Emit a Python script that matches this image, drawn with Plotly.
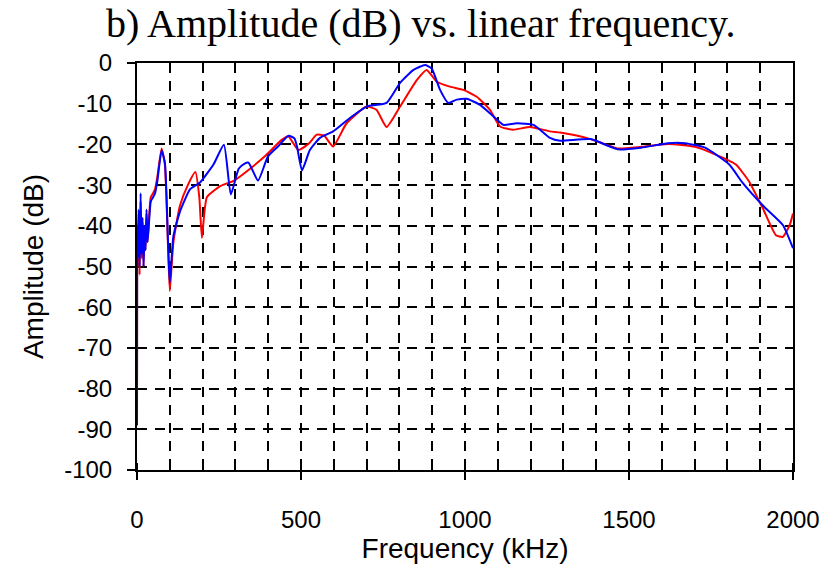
import plotly.graph_objects as go

# Blue trace
blue_f = [0, 0.5, 2, 5, 8, 11, 14, 17, 20, 23, 26, 29, 32, 36, 42, 49, 55, 62, 75, 85, 95, 100, 111, 131, 162, 193, 234, 265, 286, 310, 327, 340, 369, 399, 430, 462, 480, 488, 503, 527, 558, 598, 649, 700, 761, 802, 843, 878, 898, 924, 949, 975, 1005, 1046, 1086, 1117, 1158, 1209, 1259, 1290, 1383, 1465, 1537, 1619, 1671, 1732, 1805, 1846, 1908, 1969, 2000]
blue_db = [-89, -40, -48, -36, -50, -32, -47, -38, -50, -40, -46, -36, -44, -40, -34, -33, -32, -29, -21.5, -24.5, -45, -54, -42.5, -36.5, -31, -29.3, -24.8, -20.1, -32.3, -26, -24.8, -24.5, -28.9, -23, -20.5, -17.9, -18.5, -20.6, -26.4, -21.4, -18.4, -16.8, -13.5, -10.7, -9.8, -4.9, -1.7, -0.5, -1.3, -6.6, -9.8, -9, -8.8, -10.3, -13.1, -15.2, -14.8, -15.2, -18.4, -19.1, -18.7, -21.2, -20.8, -19.7, -19.7, -20.8, -24.9, -29.4, -35, -39.8, -45.5]

# Red trace
red_f = [0, 0.5, 2, 5, 8, 11, 14, 17, 20, 23, 26, 29, 32, 36, 42, 49, 55, 62, 75, 85, 95, 100, 111, 131, 155, 178, 190, 198, 213, 255, 296, 338, 389, 441, 461, 492, 524, 548, 570, 598, 639, 700, 730, 761, 802, 853, 883, 914, 954, 995, 1036, 1076, 1107, 1147, 1198, 1259, 1290, 1383, 1465, 1537, 1619, 1701, 1764, 1825, 1866, 1908, 1948, 1969, 1990, 2000]
red_db = [-89, -42, -50, -37, -52, -34, -48, -39, -50, -41, -46, -37, -44, -39, -33, -32, -31, -28, -21, -25, -46, -56, -44, -35, -30, -26.8, -33, -43, -33, -30.2, -28.9, -26.4, -23, -18.9, -18, -21.4, -19.8, -17.6, -17.8, -20.5, -14.8, -10.7, -11.5, -15.7, -10.7, -4.2, -1.7, -4.6, -5.8, -6.6, -8.3, -11.5, -15.6, -16.4, -15.7, -16.8, -17.1, -18.7, -21, -20.6, -19.9, -20.6, -22.5, -24.9, -29.1, -35.7, -42.3, -42.7, -39.8, -37]

x_ticks = [0, 500, 1000, 1500, 2000]
y_ticks = [0, -10, -20, -30, -40, -50, -60, -70, -80, -90, -100]

fig = go.Figure()
fig.add_trace(go.Scatter(x=red_f, y=red_db, mode="lines",
                         line=dict(color="#ff0000", width=2, shape="spline", smoothing=0.5),
                         showlegend=False))
fig.add_trace(go.Scatter(x=blue_f, y=blue_db, mode="lines",
                         line=dict(color="#0000ff", width=2, shape="spline", smoothing=0.5),
                         showlegend=False))

tick_font = dict(family="Liberation Sans, Arial, sans-serif", size=24, color="black")
label_font = dict(family="Liberation Sans, Arial, sans-serif", size=28, color="black")

fig.update_layout(
    width=833, height=573,
    margin=dict(l=137, r=40, t=63, b=103),
    paper_bgcolor="white", plot_bgcolor="white",
    title=dict(text="b) Amplitude (dB) vs. linear frequency.",
               font=dict(family="Liberation Serif, Times New Roman, serif", size=40, color="black"),
               x=0.505, xanchor="center", y=0.96, yanchor="middle"),
    xaxis=dict(range=[0, 2000], tickvals=x_ticks, ticktext=[str(v) for v in x_ticks],
               showline=True, linecolor="black", linewidth=2, mirror=True,
               ticks="outside", ticklen=8, tickwidth=2, tickcolor="black",
               ticklabelstandoff=19,
               showgrid=True, gridcolor="black", gridwidth=2, griddash="10px,8px",
               minor=dict(dtick=100, tick0=0, ticks="inside", ticklen=7, tickwidth=2,
                          tickcolor="black", showgrid=True, gridcolor="black",
                          gridwidth=2, griddash="10px,8px"),
               zeroline=False, tickfont=tick_font,
               title=dict(text="Frequency (kHz)", font=label_font, standoff=5)),
    yaxis=dict(range=[-100, 0], tickvals=y_ticks, ticktext=[str(v) for v in y_ticks],
               showline=True, linecolor="black", linewidth=2, mirror=True,
               ticks="outside", ticklen=8, tickwidth=2, tickcolor="black",
               ticklabelstandoff=10,
               showgrid=True, gridcolor="black", gridwidth=2, griddash="10px,8px",
               zeroline=False, tickfont=tick_font,
               title=dict(text="Amplitude (dB)", font=label_font, standoff=12)),
)

fig.write_html("out.html")
